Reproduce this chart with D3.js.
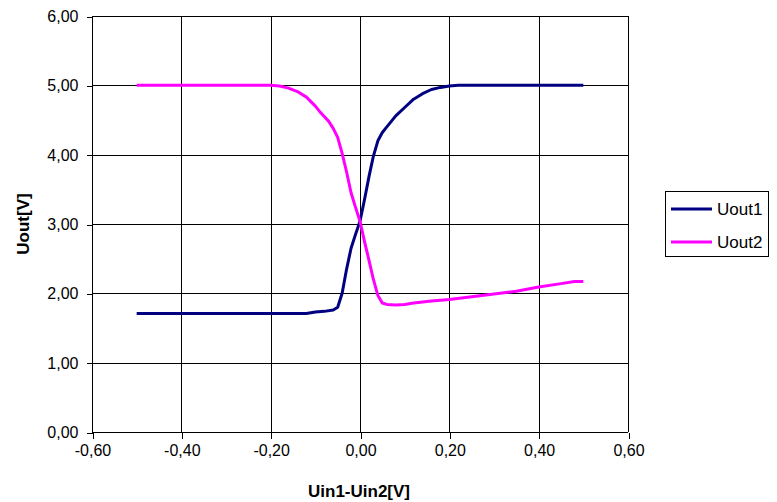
<!DOCTYPE html>
<html>
<head>
<meta charset="utf-8">
<script src="https://cdn.jsdelivr.net/npm/d3@7"></script>
<style>
  html, body { margin: 0; padding: 0; background: #fff; }
  svg { display: block; }
  text { font-family: "Liberation Sans", Arial, sans-serif; fill: #000; }
</style>
</head>
<body>
<svg id="chart" width="777" height="502"></svg>
<script>
const xTicks = [-0.6, -0.4, -0.2, 0, 0.2, 0.4, 0.6];
const yTicks = [0, 1, 2, 3, 4, 5, 6];

const x1 = [-0.5, -0.4, -0.3, -0.2, -0.15, -0.12, -0.10, -0.08, -0.06, -0.05, -0.04, -0.03, -0.02, -0.01, 0, 0.01, 0.02, 0.03, 0.04, 0.05, 0.06, 0.07, 0.08, 0.10, 0.12, 0.14, 0.16, 0.18, 0.20, 0.22, 0.3, 0.4, 0.5];
const uout1 = [1.71, 1.71, 1.71, 1.71, 1.71, 1.71, 1.73, 1.74, 1.76, 1.80, 2.00, 2.35, 2.65, 2.85, 3.04, 3.35, 3.68, 3.98, 4.20, 4.32, 4.40, 4.48, 4.56, 4.68, 4.80, 4.88, 4.94, 4.97, 4.99, 5.00, 5.00, 5.00, 5.00];

const x2 = [-0.5, -0.4, -0.3, -0.2, -0.18, -0.16, -0.14, -0.12, -0.10, -0.09, -0.08, -0.07, -0.06, -0.05, -0.04, -0.03, -0.02, -0.01, 0, 0.01, 0.02, 0.03, 0.04, 0.05, 0.06, 0.08, 0.10, 0.12, 0.16, 0.20, 0.25, 0.30, 0.35, 0.40, 0.45, 0.48, 0.50];
const uout2 = [5.0, 5.0, 5.0, 5.0, 4.99, 4.96, 4.91, 4.83, 4.70, 4.62, 4.55, 4.48, 4.38, 4.25, 4.02, 3.75, 3.45, 3.24, 3.04, 2.75, 2.48, 2.20, 1.97, 1.86, 1.84, 1.83, 1.84, 1.86, 1.89, 1.91, 1.95, 1.99, 2.03, 2.09, 2.14, 2.17, 2.17];

const seriesNames = ["Uout1", "Uout2"];
const seriesColors = ["#000080", "#FF00FF"];

const fmt = v => d3.format(".2f")(v).replace(".", ",").replace("\u2212", "-");

const svg = d3.select("#chart");
const pL = 92, pR = 628, pT = 16, pB = 432;
const x = d3.scaleLinear().domain([-0.6, 0.6]).range([pL, pR]);
const y = d3.scaleLinear().domain([0, 6]).range([pB, pT]);

// gridlines
const grid = svg.append("g").attr("shape-rendering", "crispEdges");
grid.selectAll("line.v").data(xTicks).join("line").attr("class", "v")
  .attr("x1", d => Math.round(x(d)) + 0.5).attr("x2", d => Math.round(x(d)) + 0.5)
  .attr("y1", pT).attr("y2", pB).attr("stroke", "#000").attr("stroke-width", 1);
grid.selectAll("line.h").data(yTicks).join("line").attr("class", "h")
  .attr("y1", d => Math.round(y(d)) + 0.5).attr("y2", d => Math.round(y(d)) + 0.5)
  .attr("x1", pL).attr("x2", pR).attr("stroke", "#000").attr("stroke-width", 1);

// axes
const xAxis = svg.append("g").attr("transform", `translate(0.5,${Math.round(y(0)) + 0.5})`)
  .call(d3.axisBottom(x).tickValues(xTicks).tickFormat(fmt).tickSize(6).tickPadding(6));
const yAxis = svg.append("g").attr("transform", `translate(${Math.round(x(-0.6)) + 0.5},0.5)`)
  .call(d3.axisLeft(y).tickValues(yTicks).tickFormat(fmt).tickSize(6).tickPadding(8));
[xAxis, yAxis].forEach(a => {
  a.select(".domain").remove();
  a.selectAll("line").attr("stroke", "#000").attr("shape-rendering", "crispEdges");
  a.selectAll("text").style("font-size", "16px").style("font-family", "Liberation Sans, Arial, sans-serif").attr("fill", "#000");
});

// lines
const line = d3.line().x(d => x(d[0])).y(d => y(d[1]));
const data = [x1.map((v, i) => [v, uout1[i]]), x2.map((v, i) => [v, uout2[i]])];
svg.append("g").selectAll("path").data(data).join("path")
  .attr("d", line).attr("fill", "none")
  .attr("stroke", (d, i) => seriesColors[i]).attr("stroke-width", 3)
  .attr("stroke-linejoin", "round");

// axis titles
svg.append("text").attr("x", 359).attr("y", 497).attr("text-anchor", "middle")
  .style("font-size", "17px").style("font-weight", "bold").text("Uin1-Uin2[V]");
svg.append("text").attr("transform", "translate(29,224) rotate(-90)").attr("text-anchor", "middle")
  .style("font-size", "17px").style("font-weight", "bold").text("Uout[V]");

// legend
const lg = svg.append("g");
lg.append("rect").attr("x", 665.5).attr("y", 191.5).attr("width", 103).attr("height", 65)
  .attr("fill", "#fff").attr("stroke", "#000").attr("stroke-width", 1);
seriesNames.forEach((n, i) => {
  const ly = 209 + i * 33;
  lg.append("line").attr("x1", 671).attr("x2", 712).attr("y1", ly).attr("y2", ly)
    .attr("stroke", seriesColors[i]).attr("stroke-width", 3);
  lg.append("text").attr("x", 717).attr("y", ly + 6).style("font-size", "17px").text(n);
});
</script>
</body>
</html>
